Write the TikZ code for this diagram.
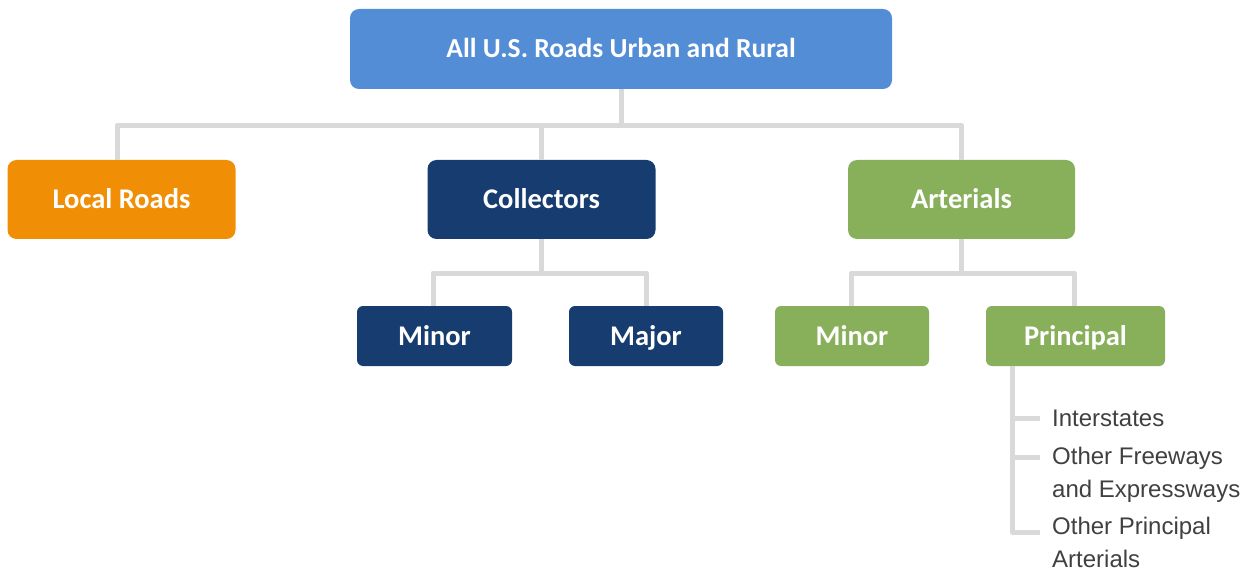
\documentclass[tikz,border=0pt]{standalone}
\usepackage{fontspec}
\setmainfont{Liberation Sans}
\newfontfamily\boxfont{Carlito}
\definecolor{topblue}{HTML}{538DD5}
\definecolor{orangec}{HTML}{F08F06}
\definecolor{navy}{HTML}{173C70}
\definecolor{greenc}{HTML}{88B05A}
\definecolor{linec}{HTML}{D9D9D9}
\definecolor{txt}{HTML}{404040}
\tikzset{
  bigbox/.style={rectangle, rounded corners=9pt, draw=none, text=white,
    font=\boxfont\bfseries\fontsize{28.5}{30}\selectfont, inner sep=0pt,
    text height=18pt, text depth=0pt},
  topbox/.style={bigbox, font=\boxfont\bfseries\fontsize{27.5}{30}\selectfont},
  smallbox/.style={bigbox, rounded corners=6pt},
  conn/.style={draw=linec, line width=5pt, line join=round},
  leaf/.style={anchor=west, text=txt, font=\fontsize{24}{33}\selectfont, align=left, inner sep=0pt}
}
\begin{document}
\begin{tikzpicture}[x=1pt,y=-1pt]
\useasboundingbox (0,0) rectangle (1245,572);
\coordinate (h1) at (0,125.5);
\coordinate (h2) at (0,273);
\node[topbox, fill=topblue, minimum width=542pt, minimum height=80pt] (top) at (621,49) {All U.S. Roads Urban and Rural};
\node[bigbox, fill=orangec, minimum width=228pt, minimum height=79pt] (local) at (121.5,199.5) {Local Roads};
\node[bigbox, fill=navy, minimum width=228pt, minimum height=79pt] (coll) at (541.5,199.5) {Collectors};
\node[bigbox, fill=greenc, minimum width=227pt, minimum height=79pt] (art) at (961.5,199.5) {Arterials};
\node[smallbox, fill=navy, minimum width=155pt, minimum height=60pt] (cmin) at (434.5,336) {Minor};
\node[smallbox, fill=navy, minimum width=154pt, minimum height=60pt] (cmaj) at (646,336) {Major};
\node[smallbox, fill=greenc, minimum width=154pt, minimum height=60pt] (amin) at (852,336) {Minor};
\node[smallbox, fill=greenc, minimum width=179pt, minimum height=60pt] (aprin) at (1075.5,336) {Principal};
% level 1 connectors
\draw[conn] (top.south) -- (top.south |- h1);
\draw[conn] ([xshift=-4.5pt]local.north) -- ([xshift=-4.5pt]local.north |- h1) -- (art.north |- h1) -- (art.north);
\draw[conn] (coll.north |- h1) -- (coll.north);
% collectors
\draw[conn] (coll.south) -- (coll.south |- h2);
\draw[conn] ([xshift=-1.5pt]cmin.north) -- ([xshift=-1.5pt]cmin.north |- h2) -- (cmaj.north |- h2) -- (cmaj.north);
% arterials
\draw[conn] (art.south) -- (art.south |- h2);
\draw[conn] ([xshift=-1pt]amin.north) -- ([xshift=-1pt]amin.north |- h2) -- ([xshift=-1.5pt]aprin.north |- h2) -- ([xshift=-1.5pt]aprin.north);
% principal list
\node[leaf] (l1) at (1052,418) {Interstates};
\node[leaf] (l2) at (1052,475) {Other Freeways\\and Expressways};
\node[leaf] (l3) at (1052,542) {Other Principal\\Arterials};
\coordinate (pl) at ([xshift=26.5pt]aprin.south west);
\coordinate (t2) at (0,457);
\coordinate (t3) at (0,532);
\draw[conn] (pl) -- (pl |- t3) -- ++(28,0);
\draw[conn] (pl |- l1.west) -- ++(28,0);
\draw[conn] (pl |- t2) -- ++(28,0);
\end{tikzpicture}
\end{document}
